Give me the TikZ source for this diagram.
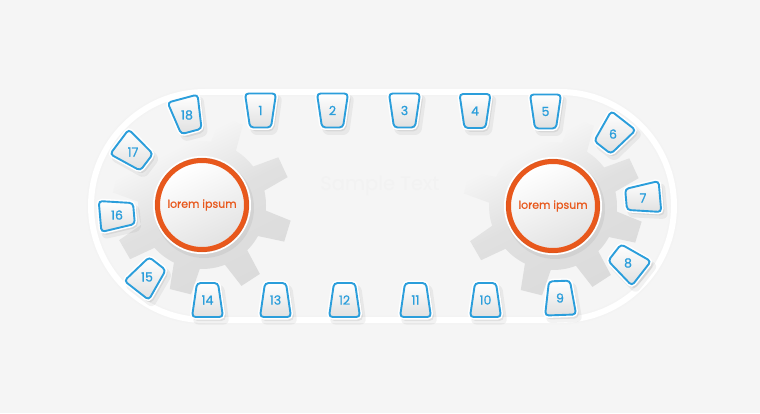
\documentclass[tikz,border=0pt]{standalone}
\usepackage{fontspec}
\setmainfont{Poppins}
\newfontfamily\semifont[FakeBold=0.8]{Poppins}
\usetikzlibrary{calc}
\definecolor{bg}{HTML}{F5F5F5}
\definecolor{tileblue}{HTML}{2B9EDB}
\definecolor{ringorange}{HTML}{E8581C}
\definecolor{gearg}{HTML}{E0E0E0}
\definecolor{geard}{HTML}{D6D6D6}
\definecolor{tilegray}{HTML}{E0E0E0}
\pgfdeclarehorizontalshading{gearfade}{100bp}{color(0bp)=(geard); color(50bp)=(gearg); color(68bp)=(bg); color(100bp)=(bg)}
\tikzset{
  tilenum/.style={text=tileblue,font=\semifont\fontsize{12.5}{12.5}\selectfont,inner sep=0pt},
  lorem/.style={text=ringorange,font=\semifont\fontsize{11}{11}\selectfont,inner sep=0pt},
}
\newcommand{\mytile}[5]{%
  \begin{scope}[shift={(#2+3.5,#3-4.5)},rotate=#4-90]
    \fill[black,opacity=0.05,rounded corners=6pt] (-18.5,20) -- (18.5,20) -- (13,-20) -- (-13,-20) -- cycle;
  \end{scope}
  \begin{scope}[shift={(#2+2,#3-2.5)},rotate=#4-90]
    \fill[black,opacity=0.07,rounded corners=5pt] (-17,18.5) -- (17,18.5) -- (11.5,-18.5) -- (-11.5,-18.5) -- cycle;
  \end{scope}
  \begin{scope}[shift={(#2,#3)},rotate=#4-90]
    \draw[white,line width=5pt,rounded corners=3.5pt] (-15.5,17) -- (15.5,17) -- (10.5,-17) -- (-10.5,-17) -- cycle;
    \path[rounded corners=3.5pt,top color=white,bottom color=tilegray] (-15.5,17) -- (15.5,17) -- (10.5,-17) -- (-10.5,-17) -- cycle;
    \draw[tileblue,line width=1.9pt,rounded corners=3.5pt] (-15.5,17) -- (15.5,17) -- (10.5,-17) -- (-10.5,-17) -- cycle;
  \end{scope}
  \node[tilenum] (#1) at (#2,#3) {#5};
}
\newcommand{\mygear}[2]{%
  \begin{scope}[shift={(#1,#2)}]
    \path[shading=gearfade,shading angle=117]
      (-162:64pt)
      \foreach \a/\b in {-150/-104,-104/-57,-57/-17,-17/25,25/70,70/115,115/165,165/210}{
        -- (\a-12:64pt) -- (\a-7:90pt) -- (\a+7:90pt) -- (\a+12:64pt)
        arc[start angle=\a+12,end angle=\b-12,radius=64pt]
      } -- cycle;
  \end{scope}
}
\newcommand{\mycircle}[3]{%
  \fill[black,opacity=0.05] ($(#2,#3)+(2,-3)$) circle (50pt);
  \fill[white] (#2,#3) circle (49pt);
  \path[top color=white,bottom color=gray!22,shading angle=25] (#2,#3) circle (42pt);
  \draw[ringorange,line width=5pt] (#2,#3) circle (44.5pt);
  \draw[ringorange!80!black,line width=0.4pt,opacity=0.5] (#2,#3) circle (47pt);
  \node[lorem] (#1) at (#2,#3) {lorem ipsum};
}
\begin{document}
\begin{tikzpicture}[x=1pt,y=1pt]
\useasboundingbox (0,0) rectangle (760,413);
\fill[bg] (0,0) rectangle (760,413);
% stadium track
\draw[gray!10,line width=9pt,opacity=0.4] (205,321) -- (560,321) arc[start angle=90,end angle=-90,radius=114pt] -- (205,93) arc[start angle=270,end angle=90,radius=114pt] -- cycle;
\draw[white,line width=6pt] (205,321) -- (560,321) arc[start angle=90,end angle=-90,radius=114pt] -- (205,93) arc[start angle=270,end angle=90,radius=114pt] -- cycle;
% gears
\mygear{202}{208}
\mygear{553}{207}
% sample text
\node[text=black!5,font=\fontsize{19.5}{19.5}\selectfont] (st) at (380,227) {Sample Text};
% centre circles
\mycircle{c1}{202}{208}
\mycircle{c2}{553}{207}
% tiles
\mytile{t1}{260.5}{302.5}{90}{1}
\mytile{t2}{332.5}{302.5}{90}{2}
\mytile{t3}{404.5}{302.5}{90}{3}
\mytile{t4}{475}{302}{90}{4}
\mytile{t5}{545.5}{301.5}{90}{5}
\mytile{t6}{613}{279}{52}{6}
\mytile{t7}{643}{215}{5}{7}
\mytile{t8}{628}{150}{-38}{8}
\mytile{t9}{560}{115}{-88}{9}
\mytile{t10}{485.5}{113}{-90}{10}
\mytile{t11}{415.5}{113}{-90}{11}
\mytile{t12}{344.5}{113}{-90}{12}
\mytile{t13}{275.5}{113}{-90}{13}
\mytile{t14}{207.5}{113}{-90}{14}
\mytile{t15}{147}{136}{232}{15}
\mytile{t16}{117}{198}{185}{16}
\mytile{t17}{133}{261}{143}{17}
\mytile{t18}{187}{298}{105}{18}
\end{tikzpicture}
\end{document}
